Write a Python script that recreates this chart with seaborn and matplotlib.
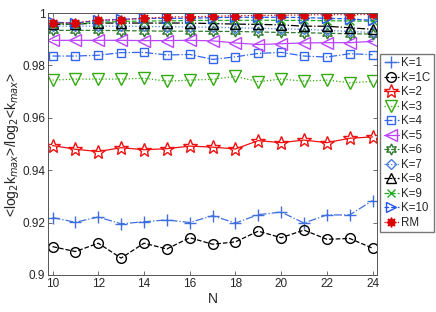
import numpy as np
import pandas as pd
import seaborn as sns
import matplotlib.pyplot as plt

N = list(range(10, 25))

k1 = [0.9219, 0.9201, 0.9221, 0.9195, 0.9203, 0.9210, 0.9200, 0.9226, 0.9198, 0.9230,
      0.9240, 0.9198, 0.9229, 0.9229, 0.9284]
k1c = [0.9108, 0.9089, 0.9121, 0.9064, 0.9121, 0.9099, 0.9142, 0.9117, 0.9126, 0.9167,
       0.9142, 0.9171, 0.9136, 0.9139, 0.9102]
k2 = [0.9494, 0.9480, 0.9471, 0.9486, 0.9478, 0.9482, 0.9492, 0.9488, 0.9481, 0.9513,
      0.9505, 0.9515, 0.9505, 0.9522, 0.9527]
k3 = [0.9744, 0.9748, 0.9748, 0.9748, 0.9751, 0.9740, 0.9744, 0.9747, 0.9758, 0.9738,
      0.9748, 0.9740, 0.9744, 0.9734, 0.9739]
k4 = [0.9836, 0.9836, 0.9839, 0.9849, 0.9850, 0.9840, 0.9842, 0.9823, 0.9833, 0.9846,
      0.9850, 0.9836, 0.9832, 0.9845, 0.9841]
k5 = [0.9896, 0.9896, 0.9896, 0.9896, 0.9895, 0.9895, 0.9896, 0.9894, 0.9886, 0.9880,
      0.9883, 0.9886, 0.9887, 0.9887, 0.9892]
k6 = [0.9934, 0.9934, 0.9934, 0.9933, 0.9932, 0.9931, 0.9931, 0.9930, 0.9930, 0.9928,
      0.9926, 0.9925, 0.9923, 0.9921, 0.9920]
k7 = [0.9950, 0.9950, 0.9950, 0.9950, 0.9949, 0.9948, 0.9947, 0.9946, 0.9944, 0.9942,
      0.9940, 0.9938, 0.9934, 0.9930, 0.9926]
k8 = [0.9957, 0.9958, 0.9962, 0.9962, 0.9962, 0.9962, 0.9962, 0.9960, 0.9958, 0.9957,
      0.9955, 0.9950, 0.9950, 0.9944, 0.9938]
k9 = [0.9960, 0.9958, 0.9965, 0.9968, 0.9970, 0.9970, 0.9972, 0.9972, 0.9972, 0.9973,
      0.9972, 0.9972, 0.9971, 0.9970, 0.9969]
k10 = [0.9965, 0.9962, 0.9972, 0.9976, 0.9980, 0.9980, 0.9980, 0.9983, 0.9984, 0.9984,
       0.9984, 0.9983, 0.9980, 0.9978, 0.9972]
rm = [0.9962, 0.9963, 0.9973, 0.9975, 0.9980, 0.9985, 0.9986, 0.9988, 0.9990, 0.9991,
      0.9992, 0.9993, 0.9994, 0.9994, 0.9995]

# label, values, color, marker, linestyle, marker size, filled
series = [
    ("K=1", k1, "#3f6fdf", "+", "-.", 8, True),
    ("K=1C", k1c, "black", "o", "--", 7, False),
    ("K=2", k2, "#ee1111", "*", "-", 10, False),
    ("K=3", k3, "#33aa11", "v", ":", 8, False),
    ("K=4", k4, "#3366ee", "s", "-.", 6, False),
    ("K=5", k5, "#bb44ff", "<", "-", 8, False),
    ("K=6", k6, "#2f7a2f", (6, 1, 0), "--", 8, False),
    ("K=7", k7, "#4a7fe0", "D", ":", 5.5, False),
    ("K=8", k8, "black", "^", "-.", 7, False),
    ("K=9", k9, "#22aa22", "x", "--", 6, True),
    ("K=10", k10, "#2255ee", ">", "--", 7, False),
    ("RM", rm, "#dd0000", (8, 1, 0), ":", 7, True),
]

sns.set_style("ticks")
plt.rcParams['font.family'] = ['Liberation Sans', 'DejaVu Sans']

fig = plt.figure(figsize=(4.36, 3.12), dpi=100)
ax = fig.add_axes([0.110, 0.119, 0.755, 0.839])

for label, vals, color, marker, ls, ms, filled in series:
    df = pd.DataFrame({"N": N, "v": vals})
    sns.lineplot(data=df, x="N", y="v", ax=ax, color=color, marker=marker,
                 linestyle=ls, linewidth=0.9, markersize=ms,
                 markerfacecolor=color if filled else "none",
                 markeredgecolor=color, markeredgewidth=1.0, label=label)

ax.set_xlim(9.8, 24.2)
ax.set_ylim(0.9, 1.0)
ax.set_xticks(range(10, 25, 2))
ax.set_yticks([0.9, 0.92, 0.94, 0.96, 0.98, 1.0])
ax.set_yticklabels(["0.9", "0.92", "0.94", "0.96", "0.98", "1"])
ax.tick_params(direction="in", top=True, right=True, labelsize=8.5, length=3,
               width=0.6, color="#555555", pad=2)
for s in ax.spines.values():
    s.set_linewidth(0.7)
    s.set_color("#555555")

ax.set_xlabel("N", fontsize=10, labelpad=2)
ax.set_ylabel(r"<log$_2$k$_{max}$>/log$_2$<k$_{max}$>", fontsize=10, labelpad=1)

ax.legend(loc="upper left", bbox_to_anchor=(1.01, 0.845), fontsize=8.3,
          handlelength=1.3, handletextpad=0.2, borderpad=0.3, labelspacing=0.22,
          borderaxespad=0, frameon=True, fancybox=False, edgecolor="#555555")

plt.savefig("out.png", dpi=100)
